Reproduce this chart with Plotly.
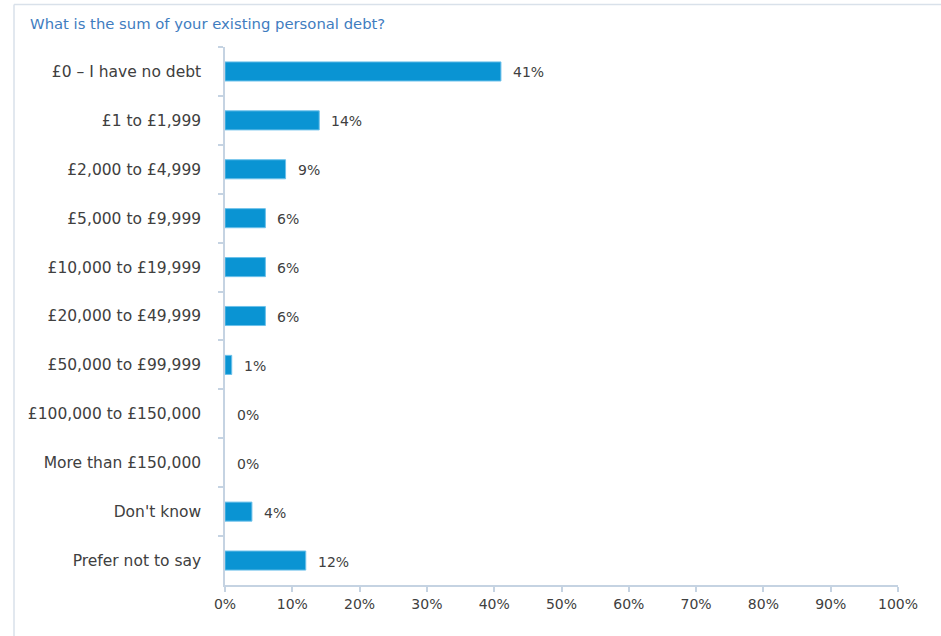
import plotly.graph_objects as go

categories = [
    "£0 – I have no debt",
    "£1 to £1,999",
    "£2,000 to £4,999",
    "£5,000 to £9,999",
    "£10,000 to £19,999",
    "£20,000 to £49,999",
    "£50,000 to £99,999",
    "£100,000 to £150,000",
    "More than £150,000",
    "Don't know",
    "Prefer not to say",
]
values = [41, 14, 9, 6, 6, 6, 1, 0, 0, 4, 12]
x_ticks = list(range(0, 101, 10))
x_tick_labels = [f"{t}%" for t in x_ticks]

W, H = 941, 636
ML, MR, MT, MB = 225, 43, 47, 51
FONT = "'DejaVu Sans', sans-serif"
TEXT = "#404040"
AXIS = "#c5d3e2"

fig = go.Figure()
fig.add_trace(go.Bar(
    x=values,
    y=categories,
    orientation="h",
    width=0.39,
    marker=dict(
        color="#0a94d3",
        line=dict(color="#6cc0ea", width=[1 if v > 0 else 0 for v in values]),
    ),
    hoverinfo="skip",
))

# value labels just past the end of each bar
for c, v in zip(categories, values):
    fig.add_annotation(
        x=v, y=c, text=f"{v}%", showarrow=False,
        xanchor="left", xshift=10, yshift=-1,
        font=dict(family=FONT, size=14, color=TEXT),
    )

# light frame around the chart (top and left edges)
pw, ph = W - ML - MR, H - MT - MB
x0 = (14 - ML) / pw
y_top = (H - MB - 4.5) / ph
line = dict(color="#d9e1ea", width=1.5)
fig.add_shape(type="line", xref="paper", yref="paper",
              x0=x0, x1=(W + 10 - ML) / pw, y0=y_top, y1=y_top, line=line)
fig.add_shape(type="line", xref="paper", yref="paper",
              x0=x0, x1=x0, y0=y_top, y1=-0.2, line=line)

fig.update_layout(
    width=W, height=H,
    margin=dict(l=ML, r=MR, t=MT, b=MB),
    paper_bgcolor="white", plot_bgcolor="white",
    showlegend=False,
    title=dict(
        text="What is the sum of your existing personal debt?",
        x=30 / W, xanchor="left", y=1 - 24 / H, yanchor="middle",
        font=dict(family=FONT, size=14.8, color="#3f7dbf"),
    ),
    font=dict(family=FONT, size=14, color=TEXT),
    xaxis=dict(
        range=[0, 100], tickvals=x_ticks, ticktext=x_tick_labels,
        showgrid=False, zeroline=False,
        showline=True, linecolor=AXIS, linewidth=1.5,
        ticks="outside", ticklen=5, tickcolor=AXIS, tickwidth=1.5,
        tickfont=dict(family=FONT, size=14, color=TEXT),
        fixedrange=True,
    ),
    yaxis=dict(
        categoryorder="array", categoryarray=categories,
        autorange="reversed",
        showgrid=False, zeroline=False,
        showline=True, linecolor=AXIS, linewidth=1.5,
        ticks="outside", ticklen=5, tickcolor=AXIS, tickwidth=1.5,
        tickson="boundaries",
        ticklabelstandoff=19,
        tickfont=dict(family=FONT, size=15.5, color=TEXT),
        fixedrange=True,
    ),
)

fig.write_html("out.html")
